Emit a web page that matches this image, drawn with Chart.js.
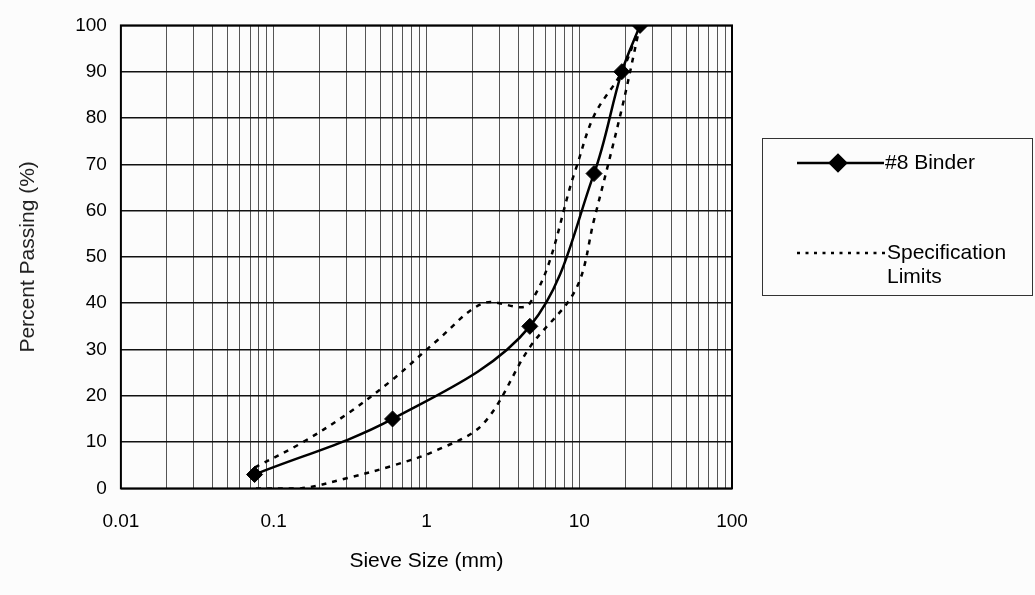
<!DOCTYPE html>
<html>
<head>
<meta charset="utf-8">
<title>Sieve Analysis - #8 Binder</title>
<script src="https://cdn.jsdelivr.net/npm/chart.js@4.4.1/dist/chart.umd.min.js"></script>
<style>
  html, body { margin: 0; padding: 0; background: #fcfcfc; }
  #wrap { width: 1035px; height: 595px; }
</style>
</head>
<body>
<div id="wrap"><canvas id="gradationChart" width="1035" height="595"></canvas></div>
<script>

// ============================
// DATA
// ============================

// #8 Binder gradation (sieve size mm / percent passing)
const binderSizes = [25, 19, 12.5, 4.75, 0.6, 0.075];
const binderPassing = [100, 90, 68, 35, 15, 3];

// Specification limit band
const specSizes = [25, 19, 12.5, 9.5, 4.75, 2.36, 1.18, 0.6, 0.3, 0.15, 0.075];
const specUpper = [100, 90, 80.5, 69, 40, 40, 32, 23.5, 16, 9.7, 4.5];
const specLower = [100, 82, 58, 43, 30.5, 14, 8.3, 4.9, 2.2, 0, 0];

// Axis ticks
const xGridValues = [
    0.01, 0.02, 0.03, 0.04, 0.05, 0.06, 0.07, 0.08, 0.09,
    0.1, 0.2, 0.3, 0.4, 0.5, 0.6, 0.7, 0.8, 0.9,
    1, 2, 3, 4, 5, 6, 7, 8, 9,
    10, 20, 30, 40, 50, 60, 70, 80, 90,
    100
];
const xLabelValues = [0.01, 0.1, 1, 10, 100];
const yTickValues = [0, 10, 20, 30, 40, 50, 60, 70, 80, 90, 100];

const legendLines = [['#8 Binder'], ['Specification', 'Limits']];

const FONT = "'Liberation Sans', Arial, Helvetica, sans-serif";


// ============================
// HELPERS
// ============================

function toPoints(xs, ys) {
    return xs.map((x, i) => ({ x: x, y: ys[i] }));
}


// frame round the plot area + legend box on the right
const framePlugin = {
    id: 'framePlugin',
    beforeDatasetsDraw(chart) {
        const { ctx, chartArea } = chart;
        ctx.save();
        ctx.strokeStyle = '#000';
        ctx.lineWidth = 2;
        ctx.strokeRect(chartArea.left, chartArea.top,
            chartArea.right - chartArea.left, chartArea.bottom - chartArea.top);
        ctx.restore();
    },
    afterDraw(chart) {
        const ctx = chart.ctx;
        const sets = chart.data.datasets;

        ctx.save();

        // box
        ctx.strokeStyle = '#333';
        ctx.lineWidth = 1;
        ctx.strokeRect(762.5, 138.5, 270, 157);

        ctx.font = '21px ' + FONT;
        ctx.fillStyle = '#000';
        ctx.textBaseline = 'middle';
        ctx.textAlign = 'left';

        // entry 1 : binder
        const y1 = 163;
        ctx.strokeStyle = sets[0].borderColor;
        ctx.lineWidth = sets[0].borderWidth;
        ctx.setLineDash([]);
        ctx.beginPath();
        ctx.moveTo(797, y1);
        ctx.lineTo(884, y1);
        ctx.stroke();
        Chart.helpers.drawPoint(ctx, {
            pointStyle: sets[0].pointStyle,
            radius: sets[0].pointRadius,
            borderWidth: 1,
            rotation: 0
        }, 838, y1);
        ctx.fillStyle = '#000';
        ctx.fill();
        legendLines[0].forEach((t, i) => ctx.fillText(t, 885, y1 + i * 24));

        // entry 2 : spec limits
        const y2 = 253;
        ctx.strokeStyle = sets[1].borderColor;
        ctx.lineWidth = 2.5;
        ctx.setLineDash([3, 5.5]);
        ctx.beginPath();
        ctx.moveTo(797, y2);
        ctx.lineTo(886, y2);
        ctx.stroke();
        ctx.setLineDash([]);
        legendLines[1].forEach((t, i) => ctx.fillText(t, 887, y2 + i * 24));

        ctx.restore();
    }
};


// ============================
// CHART
// ============================

const ctx = document.getElementById('gradationChart').getContext('2d');

new Chart(ctx, {

    type: 'scatter',

    data: {
        datasets: [
            {
                label: legendLines[0].join(' '),
                data: toPoints(binderSizes, binderPassing),
                showLine: true,
                borderColor: '#000',
                backgroundColor: '#000',
                borderWidth: 2.5,
                tension: 0.35,
                pointStyle: 'rectRot',
                pointRadius: 8,
                pointHoverRadius: 8,
                pointBorderWidth: 1,
                order: 0
            },
            {
                label: legendLines[1].join(' '),
                data: toPoints(specSizes, specUpper),
                showLine: true,
                borderColor: '#000',
                borderWidth: 2.5,
                borderDash: [5, 6],
                tension: 0.35,
                pointRadius: 0,
                pointHoverRadius: 0,
                order: 1
            },
            {
                label: 'Lower Limit',
                data: toPoints(specSizes, specLower),
                showLine: true,
                borderColor: '#000',
                borderWidth: 2.5,
                borderDash: [5, 6],
                tension: 0.35,
                pointRadius: 0,
                pointHoverRadius: 0,
                order: 1
            }
        ]
    },

    options: {
        responsive: false,
        animation: false,
        layout: {
            padding: { left: 14, top: 25, right: 303, bottom: 27 }
        },
        plugins: {
            legend: { display: false },
            tooltip: { enabled: false }
        },
        scales: {
            x: {
                type: 'logarithmic',
                min: 0.01,
                max: 100,
                afterBuildTicks: (axis) => {
                    axis.ticks = xGridValues.map(v => ({ value: v }));
                },
                ticks: {
                    autoSkip: false,
                    maxRotation: 0,
                    padding: 24,
                    color: '#000',
                    font: { family: FONT, size: 19, lineHeight: 1 },
                    callback: (value) => xLabelValues.includes(value) ? String(value) : ''
                },
                grid: {
                    color: '#555',
                    lineWidth: 1,
                    drawTicks: false
                },
                border: { display: false },
                title: {
                    display: true,
                    text: 'Sieve Size (mm)',
                    color: '#000',
                    font: { family: FONT, size: 21, lineHeight: 0.6 },
                    padding: { top: 0, bottom: 0 }
                }
            },
            y: {
                min: 0,
                max: 100,
                afterBuildTicks: (axis) => {
                    axis.ticks = yTickValues.map(v => ({ value: v }));
                },
                ticks: {
                    padding: 14,
                    color: '#000',
                    font: { family: FONT, size: 19 }
                },
                grid: {
                    color: '#111',
                    lineWidth: 1.5,
                    drawTicks: false
                },
                border: { display: false },
                title: {
                    display: true,
                    text: 'Percent Passing (%)',
                    color: '#222',
                    font: { family: FONT, size: 21 },
                    padding: { top: 2, bottom: 20 }
                }
            }
        }
    },

    plugins: [framePlugin]
});

</script>
</body>
</html>
